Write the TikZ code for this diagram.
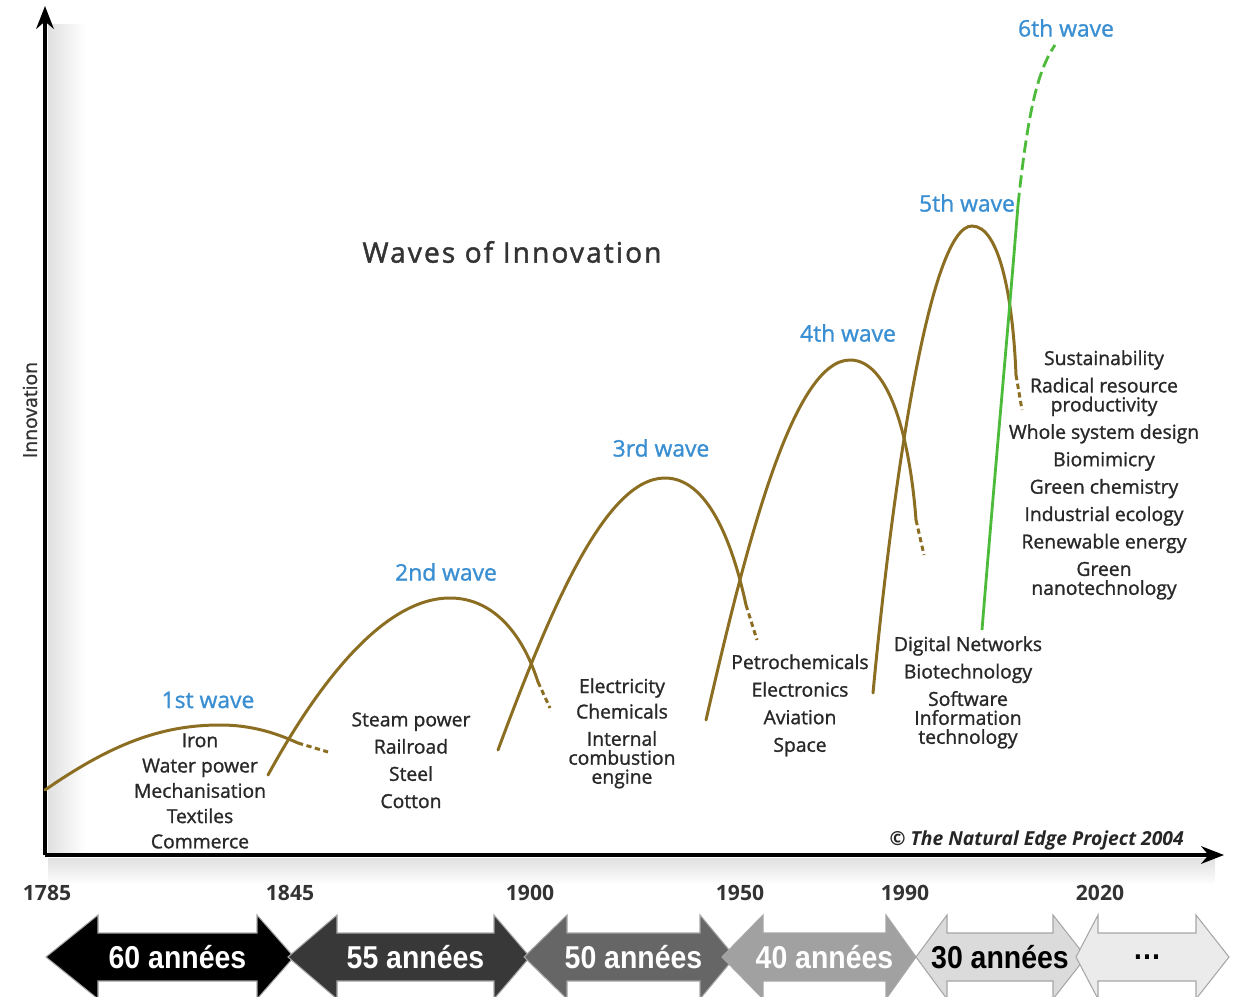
\documentclass[tikz,border=0pt]{standalone}
\usepackage{fontspec}
\setmainfont{Open Sans}
\newfontfamily\heavyfont[FakeBold=1.2]{Open Sans}
\newfontfamily\titlefont[FakeBold=1.6, LetterSpace=7.5]{Open Sans}
\newfontfamily\arrowfont[FakeStretch=0.9]{Liberation Sans}
\usetikzlibrary{arrows.meta}
\definecolor{waveolive}{RGB}{140,110,35}
\definecolor{wavegreen}{RGB}{76,187,58}
\definecolor{waveblue}{RGB}{58,143,210}
\definecolor{listgray}{RGB}{40,40,40}
\tikzset{
  wave/.style={draw=waveolive, line width=1.7pt, line cap=round},
  wavedash/.style={wave, dash pattern=on 3pt off 2pt, line cap=butt},
  greenwave/.style={draw=wavegreen, line width=1.6pt},
  wavelabel/.style={text=waveblue, font=\heavyfont\fontsize{13}{15}\selectfont},
  itemlist/.style={text=listgray, align=center, anchor=north, inner sep=0pt},
  yearlabel/.style={text=black!80, font=\fontsize{12}{14}\selectfont\bfseries},
  axis/.style={line width=2pt, -{Stealth[length=13pt,width=10pt]}}
}
\begin{document}
\begin{tikzpicture}[x=0.02cm, y=-0.02cm]
  \useasboundingbox (0,0) rectangle (1248,997);
  % soft shadows of the axes
  \shade[left color=black!12, right color=white] (48,25) rectangle (85,852);
  \shade[top color=black!12, bottom color=white] (48,858) rectangle (1215,885);
  % axes
  \coordinate (origin) at (45,855);
  \coordinate (ytop) at (45,6);
  \coordinate (xend) at (1224,855);
  \draw[axis] (origin) -- (ytop);
  \draw[axis] (origin) -- (xend);
  \node[rotate=90, text=black!80, font=\heavyfont\fontsize{11}{13}\selectfont] (ylabel) at (30,410) {Innovation};
  \node[text=black!80, font=\titlefont\fontsize{16}{19}\selectfont] (title) at (512,252) {Waves of Innovation};
  \node[anchor=east, text=black!85, font=\fontsize{11}{13}\selectfont\bfseries\itshape] (credit) at (1190,840) {© The Natural Edge Project 2004};
  % waves
  \draw[wave] (45,790) .. controls (110,745) and (160,725) .. (220,725) .. controls (255,725) and (280,735) .. (298,743);
  \draw[wavedash] (298,743) -- (328,752);
  \draw[wave] (268,775) .. controls (320,680) and (385,598) .. (450,598) .. controls (492,598) and (522,632) .. (538,682);
  \draw[wavedash] (538,682) -- (550,708);
  \draw[wave] (498,750) .. controls (550,610) and (605,478) .. (665,478) .. controls (707,478) and (732,540) .. (746,605);
  \draw[wavedash] (746,605) -- (757,640);
  \draw[wave] (706,720) .. controls (745,550) and (792,360) .. (850,360) .. controls (890,360) and (910,440) .. (916,520);
  \draw[wavedash] (916,520) -- (924,555);
  \draw[wave] (873,693) .. controls (893,480) and (930,226) .. (972,226) .. controls (1000,226) and (1013,300) .. (1016,375);
  \draw[wavedash] (1016,375) -- (1022,410);
  \draw[greenwave] (982,630) .. controls (995,470) and (1008,330) .. (1018,205);
  \draw[greenwave, dash pattern=on 7pt off 3pt] (1018,205) .. controls (1028,110) and (1038,70) .. (1055,45);
  % wave labels
  \node[wavelabel] (w1) at (208,700) {1st wave};
  \node[wavelabel] (w2) at (446,572) {2nd wave};
  \node[wavelabel] (w3) at (661,448) {3rd wave};
  \node[wavelabel] (w4) at (848,333) {4th wave};
  \node[wavelabel] (w5) at (967,203) {5th wave};
  \node[wavelabel] (w6) at (1066,28) {6th wave};
  % what each wave brought
  \node[itemlist, font=\heavyfont\fontsize{11}{14.4}\selectfont] (l1) at (200,733) {Iron\\Water power\\Mechanisation\\Textiles\\Commerce};
  \node[itemlist, font=\heavyfont\fontsize{11}{15.5}\selectfont] (l2) at (411,712) {Steam power\\Railroad\\Steel\\Cotton};
  \node[itemlist, font=\heavyfont\fontsize{11}{14.5}\selectfont] (l3) at (622,678) {Electricity\\Chemicals\\[1pt]Internal\\[-3.7pt]combustion\\[-3.7pt]engine};
  \node[itemlist, font=\heavyfont\fontsize{11}{15.7}\selectfont] (l4) at (800,654) {Petrochemicals\\Electronics\\Aviation\\Space};
  \node[itemlist, font=\heavyfont\fontsize{11}{15.6}\selectfont] (l5) at (968,636) {Digital Networks\\Biotechnology\\Software\\[-4.8pt]Information\\[-4.8pt]technology};
  \node[itemlist, font=\heavyfont\fontsize{11}{15.6}\selectfont] (l6) at (1104,350) {Sustainability\\Radical resource\\[-4.8pt]productivity\\Whole system design\\Biomimicry\\Green chemistry\\Industrial ecology\\Renewable energy\\Green\\[-4.8pt]nanotechnology};
  % years
  \foreach \yr/\xp in {1785/47, 1845/290, 1900/530, 1950/740, 1990/905, 2020/1100}
    \node[yearlabel] (y\yr) at (\xp,893) {\yr};
  % periods
  \foreach \lt/\lb/\rb/\rt/\col/\txt/\tcol [count=\i] in {
      46/98/257/294/black/60 années/white,
      288/337/494/530/black!78/55 années/white,
      524/567/700/735/black!60/50 années/white,
      722/763/886/916/black!37/40 années/white,
      916/947/1053/1086/black!14/30 années/black,
      1076/1098/1196/1229/black!8/{\ldots}/black}
  {
    \filldraw[fill=\col, draw=black!35, line width=0.6pt]
      (\lt,957) -- (\lb,915) -- (\lb,933) -- (\rb,933) -- (\rb,915) -- (\rt,957)
      -- (\rb,999) -- (\rb,981) -- (\lb,981) -- (\lb,999) -- cycle;
    \node[text=\tcol, font=\arrowfont\fontsize{18}{20}\selectfont\bfseries] (period\i) at ({(\lb+\rb)/2},957) {\txt};
  }
\end{tikzpicture}
\end{document}
